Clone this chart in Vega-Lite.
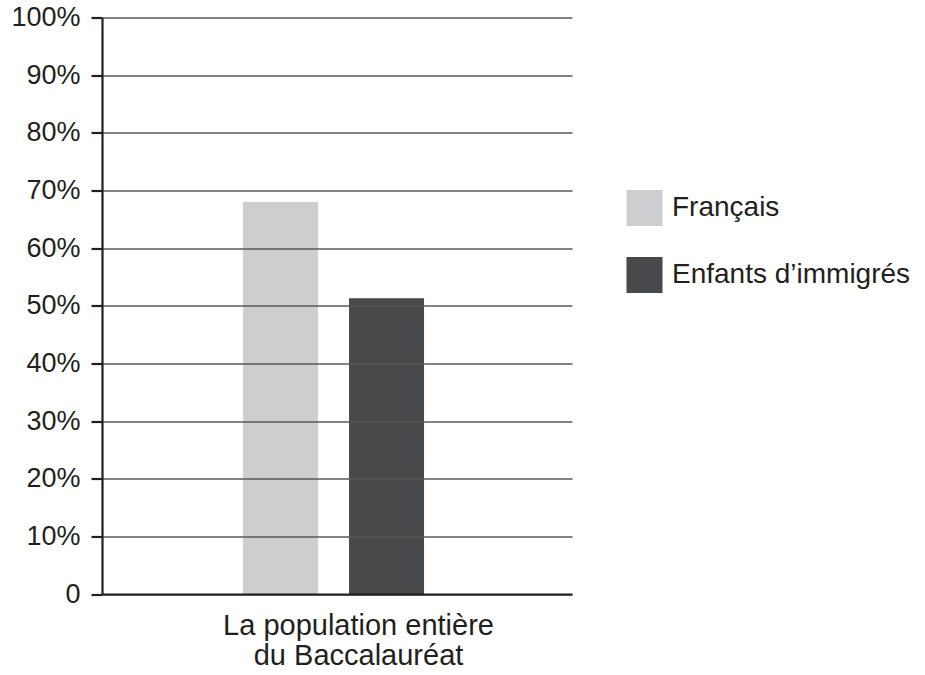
{
  "$schema": "https://vega.github.io/schema/vega-lite/v6.json",
  "autosize": "none",
  "width": 470,
  "height": 576.5,
  "padding": {"left": 102, "top": 17.5, "right": 353, "bottom": 81},
  "background": "white",
  "config": {
    "view": {"stroke": null},
    "font": "Liberation Sans"
  },
  "data": {
    "values": [
      {"categorie": "La population entière du Baccalauréat", "groupe": "Français", "part": 0.68},
      {"categorie": "La population entière du Baccalauréat", "groupe": "Enfants d’immigrés", "part": 0.513}
    ]
  },
  "mark": {"type": "bar"},
  "encoding": {
    "x": {
      "field": "categorie",
      "type": "nominal",
      "scale": {"paddingInner": 0, "paddingOuter": 0.7983, "align": 0.488},
      "axis": {
        "title": null,
        "zindex": 1,
        "labelAngle": 0,
        "ticks": false,
        "labelPadding": 17,
        "labelOffset": 25,
        "labelLimit": 0,
        "labelFont": "Liberation Sans",
        "labelFontSize": 29,
        "labelColor": "#231f20",
        "labelLineHeight": 30,
        "labelExpr": "['La population entière', 'du Baccalauréat']",
        "domainColor": "#231f20",
        "domainWidth": 2.2,
        "grid": false
      }
    },
    "xOffset": {
      "field": "groupe",
      "type": "nominal",
      "sort": ["Français", "Enfants d’immigrés"],
      "scale": {"paddingInner": 0.2925, "paddingOuter": 0}
    },
    "y": {
      "field": "part",
      "type": "quantitative",
      "scale": {"domain": [0, 1], "nice": false, "zero": true},
      "axis": {
        "title": null,
        "zindex": 1,
        "values": [0, 0.1, 0.2, 0.3, 0.4, 0.5, 0.6, 0.7, 0.8, 0.9, 1],
        "labelExpr": "datum.value == 0 ? '0' : format(datum.value, '.0%')",
        "labelFont": "Liberation Sans",
        "labelFontSize": 27,
        "labelColor": "#231f20",
        "labelPadding": 11,
        "tickSize": 11,
        "tickWidth": 2.2,
        "tickColor": "#231f20",
        "domainColor": "#231f20",
        "domainWidth": 2.2,
        "grid": true,
        "gridColor": "#58595b",
        "gridWidth": 1.3,
        "gridOpacity": 1
      }
    },
    "color": {
      "field": "groupe",
      "type": "nominal",
      "sort": ["Français", "Enfants d’immigrés"],
      "scale": {"domain": ["Français", "Enfants d’immigrés"], "range": ["#cdcecf", "#48494b"]},
      "legend": {
        "title": null,
        "orient": "none",
        "legendX": 524,
        "legendY": 172,
        "padding": 0,
        "symbolType": "square",
        "symbolSize": 1300,
        "symbolStrokeWidth": 0,
        "symbolOpacity": 1,
        "labelFont": "Liberation Sans",
        "labelFontSize": 28,
        "labelLimit": 0,
        "labelColor": "#231f20",
        "labelOffset": 9,
        "rowPadding": 30
      }
    }
  }
}
